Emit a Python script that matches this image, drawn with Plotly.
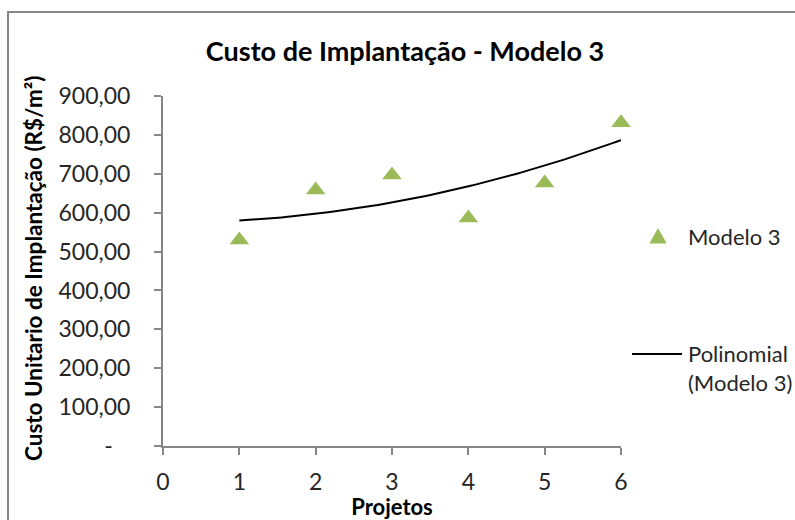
import numpy as np
import plotly.graph_objects as go

projetos = [1, 2, 3, 4, 5, 6]
custo = [530, 658, 697, 586, 676, 831]
y_ticks = [0, 100, 200, 300, 400, 500, 600, 700, 800, 900]
y_ticktext = ["-\u00a0\u00a0\u00a0", "100,00", "200,00", "300,00", "400,00", "500,00",
              "600,00", "700,00", "800,00", "900,00"]
x_ticks = [0, 1, 2, 3, 4, 5, 6]
serie_nome = "Modelo 3"
tendencia_nome = "Polinomial<br>(Modelo 3)"

coef = np.polyfit(projetos, custo, 2)
xs = np.linspace(1, 6, 100)
ys = np.polyval(coef, xs)

FONT = "Lato"
GREEN = "#9BBB59"

# plot-area geometry (pixels) used to place the hand-drawn legend/frame
L, R, T, B = 163, 621, 96, 446


def px(x):
    return (x - L) / (R - L)


def py(y):
    return (B - y) / (B - T)


fig = go.Figure()
fig.add_trace(go.Scatter(
    x=projetos, y=custo, mode="markers", name=serie_nome,
    marker=dict(symbol="triangle-up", size=17, color=GREEN),
    cliponaxis=False))
fig.add_trace(go.Scatter(
    x=xs, y=ys, mode="lines", name=tendencia_nome,
    line=dict(color="black", width=2)))

tri = "M {} {} L {} {} L {} {} Z".format(px(650), py(243), px(666), py(243), px(658), py(229))

fig.update_layout(
    template="none",
    width=795, height=520,
    margin=dict(l=L, r=795 - R, t=T, b=520 - B),
    paper_bgcolor="white", plot_bgcolor="white",
    font=dict(family=FONT, color="#262626", size=23),
    title=dict(text="<b>Custo de Implantação - Modelo 3</b>",
               x=405 / 795, xanchor="center", y=1 - 52 / 520, yanchor="middle",
               font=dict(size=27, color="black", family=FONT)),
    showlegend=False,
    xaxis=dict(range=[0, 6], tickvals=x_ticks, showgrid=False, zeroline=False,
               automargin=False,
               showline=True, linecolor="#868686", linewidth=2,
               ticks="outside", ticklen=7, tickwidth=2, tickcolor="#868686",
               ticklabelstandoff=7,
               title=dict(text="<b>Projetos</b>", font=dict(size=22, color="black"), standoff=2)),
    yaxis=dict(range=[0, 900], tickvals=y_ticks, ticktext=y_ticktext,
               showgrid=False, zeroline=False, automargin=False,
               showline=True, linecolor="#868686", linewidth=2,
               ticks="outside", ticklen=7, tickwidth=2, tickcolor="#868686",
               ticklabelstandoff=19),
    annotations=[
        dict(text="<b>Custo Unitario de Implantação (R$/m²)</b>",
             xref="paper", yref="paper", x=px(33), y=py(269),
             xanchor="center", yanchor="middle", textangle=-90,
             showarrow=False, font=dict(size=22.5, color="black", family=FONT)),
        dict(text=serie_nome, xref="paper", yref="paper", x=px(686), y=py(236),
             xanchor="left", yanchor="middle", showarrow=False, align="left",
             font=dict(size=22, color="#262626", family=FONT)),
        dict(text=tendencia_nome, xref="paper", yref="paper", x=px(686), y=py(368),
             xanchor="left", yanchor="middle", showarrow=False, align="left",
             font=dict(size=22, color="#262626", family=FONT)),
    ],
    shapes=[
        dict(type="rect", xref="paper", yref="paper",
             x0=px(8), x1=px(820), y0=py(540), y1=py(12),
             line=dict(color="#868686", width=2), layer="below"),
        dict(type="path", xref="paper", yref="paper", path=tri,
             fillcolor=GREEN, line=dict(color=GREEN, width=1)),
        dict(type="line", xref="paper", yref="paper",
             x0=px(632), x1=px(682), y0=py(354), y1=py(354),
             line=dict(color="black", width=2)),
    ],
)
fig.write_html("out.html", post_script="document.body.style.margin='0';",
               config={"displayModeBar": False})
